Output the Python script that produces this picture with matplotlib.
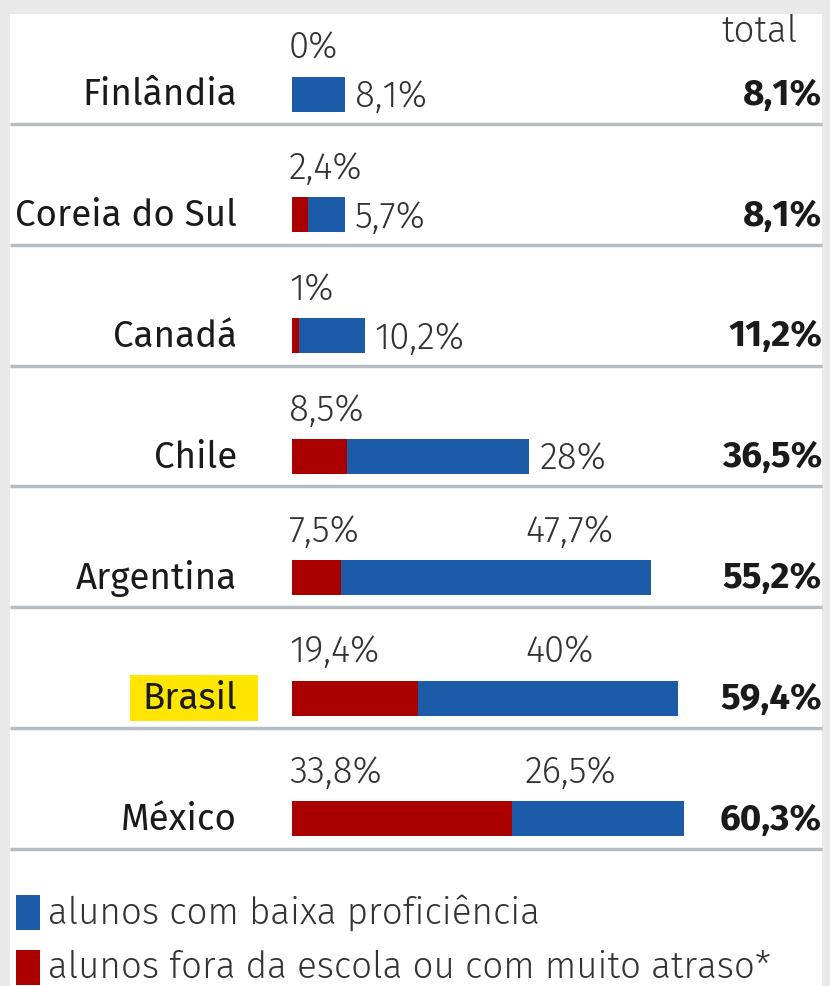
import matplotlib
matplotlib.use("Agg")
import matplotlib.pyplot as plt
from matplotlib.patches import Rectangle

countries = ["Finlândia", "Coreia do Sul", "Canadá", "Chile", "Argentina", "Brasil", "México"]
fora_escola = [0.0, 2.4, 1.0, 8.5, 7.5, 19.4, 33.8]
baixa_prof = [8.1, 5.7, 10.2, 28.0, 47.7, 40.0, 26.5]
totais = [8.1, 8.1, 11.2, 36.5, 55.2, 59.4, 60.3]
red_labels = ["0%", "2,4%", "1%", "8,5%", "7,5%", "19,4%", "33,8%"]
blue_labels = ["8,1%", "5,7%", "10,2%", "28%", "47,7%", "40%", "26,5%"]
total_labels = ["8,1%", "8,1%", "11,2%", "36,5%", "55,2%", "59,4%", "60,3%"]
highlight = "Brasil"
legend_labels = ["alunos com baixa proficiência", "alunos fora da escola ou com muito atraso*"]

BLUE = "#1b5ba8"
RED = "#aa0000"
FONT = ["Fira Sans", "PT Sans", "Open Sans", "DejaVu Sans"]
plt.rcParams["font.family"] = FONT

W, H = 830, 987
fig = plt.figure(figsize=(W / 100, H / 100), dpi=100)
fig.patch.set_facecolor("#e9e9e9")

ax = fig.add_axes([0, 0, 1, 1])
ax.set_facecolor("none")
X0, S = 292, 6.5  # pixel of zero, pixels per percent
ax.set_xlim(-X0 / S, (W - X0) / S)
ax.set_ylim(H, 0)
ax.axis("off")

def px(x):
    return (x - X0) / S

ax.add_patch(Rectangle((px(10), 15), px(822) - px(10), H, facecolor="white",
                       edgecolor="none", zorder=0))

y0, step, bh = 95, 120.8, 35
ys = [y0 + i * step for i in range(len(countries))]

ax.barh(ys, fora_escola, height=bh, color=RED, left=0, zorder=2)
ax.barh(ys, baixa_prof, height=bh, color=BLUE, left=fora_escola, zorder=2)

fs = 26.5
LBL = "#333333"
for i, c in enumerate(countries):
    y = ys[i]
    ax.text(px(237), y, c, ha="right", va="center", fontsize=fs, fontweight="normal",
            color="#1a1a1a", zorder=3)
    if c == highlight:
        ax.add_patch(Rectangle((px(130), y - 23), px(258) - px(130), 46,
                               facecolor="#ffe600", edgecolor="none", zorder=1))
    ax.text(px(289), y - 47, red_labels[i], ha="left", va="center", fontsize=fs,
            fontweight=300, color=LBL, zorder=3)
    end = fora_escola[i] + baixa_prof[i]
    if end < 40:
        ax.text(end + 10 / S, y + 2, blue_labels[i], ha="left", va="center", fontsize=fs,
                fontweight=300, color=LBL, zorder=3)
    else:
        ax.text(px(525), y - 47, blue_labels[i], ha="left", va="center", fontsize=fs,
                fontweight=300, color=LBL, zorder=3)
    ax.text(px(822), y, total_labels[i], ha="right", va="center", fontsize=fs,
            fontweight="bold", color="#1a1a1a", zorder=3)
    ax.plot([px(10), px(822)], [y + 30, y + 30], color="#b4bcc4", lw=2.5,
            solid_capstyle="butt", zorder=1)

ax.text(px(797), 32, "total", ha="right", va="center", fontsize=fs, fontweight=300, color=LBL)

for j, (lab, col) in enumerate(zip(legend_labels, [BLUE, RED])):
    yc = 913 + j * 55
    ax.add_patch(Rectangle((px(16), yc - 17), px(40) - px(16), 35, facecolor=col,
                           edgecolor="none", zorder=2))
    ax.text(px(48), yc, lab, ha="left", va="center", fontsize=fs, fontweight=300, color=LBL)

fig.savefig("out.png", dpi=100, facecolor=fig.get_facecolor())
